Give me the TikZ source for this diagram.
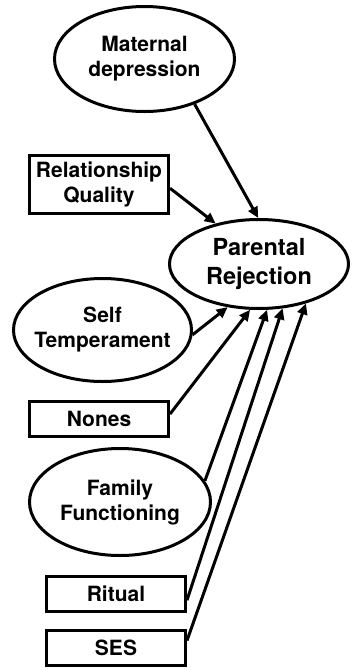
\documentclass[tikz,border=0pt]{standalone}
\usepackage{fontspec}
\setmainfont{TeX Gyre Heros}
\usetikzlibrary{shapes.geometric,arrows.meta}

\begin{document}
\begin{tikzpicture}[x=1pt,y=-1pt,
  lbl/.style={font=\bfseries\fontsize{21}{25}\selectfont, align=center, draw, line width=3pt},
  oval/.style={lbl, ellipse, inner sep=0pt, inner xsep=-6pt},
  box/.style={lbl, rectangle, inner sep=0pt, minimum width=139pt},
  link/.style={line width=3pt, -{Triangle[length=11pt,width=10pt]}}]
\useasboundingbox (0,0) rectangle (353,670);

% latent and observed predictors
\node[oval, minimum width=180pt, minimum height=105pt] (md) at (144.5,59) {Maternal\\depression};
\node[box, minimum height=58pt] (rq) at (99,184.5) {Relationship\\Quality};
\node[oval, minimum width=179pt, minimum height=89pt,
      font=\bfseries\fontsize{23.5}{28.5}\selectfont] (pr) at (259,264) {Parental\\Rejection};
\node[oval, minimum width=178pt, minimum height=103pt] (st) at (102.5,330) {Self\\Temperament};
\node[box, minimum height=35pt] (no) at (99,419) {Nones};
\node[oval, minimum width=181pt, minimum height=107pt] (ff) at (120,502) {Family\\Functioning};
\node[box, minimum height=35pt] (ri) at (116,594) {Ritual};
\node[box, minimum height=35pt] (se) at (116,648) {SES};

% paths into parental rejection
\draw[link] (md.318) -- (pr.91);
\draw[link] (rq.-3) -- (pr.137);
\draw[link] (st.-3) -- (pr.234);
\draw[link] (no.4) -- (pr.259);
\draw[link] (ff.14.5) -- (pr.280);
\draw[link] (ri.-5) -- (pr.298);
\draw[link] (se.6) -- (pr.320);
\end{tikzpicture}
\end{document}
